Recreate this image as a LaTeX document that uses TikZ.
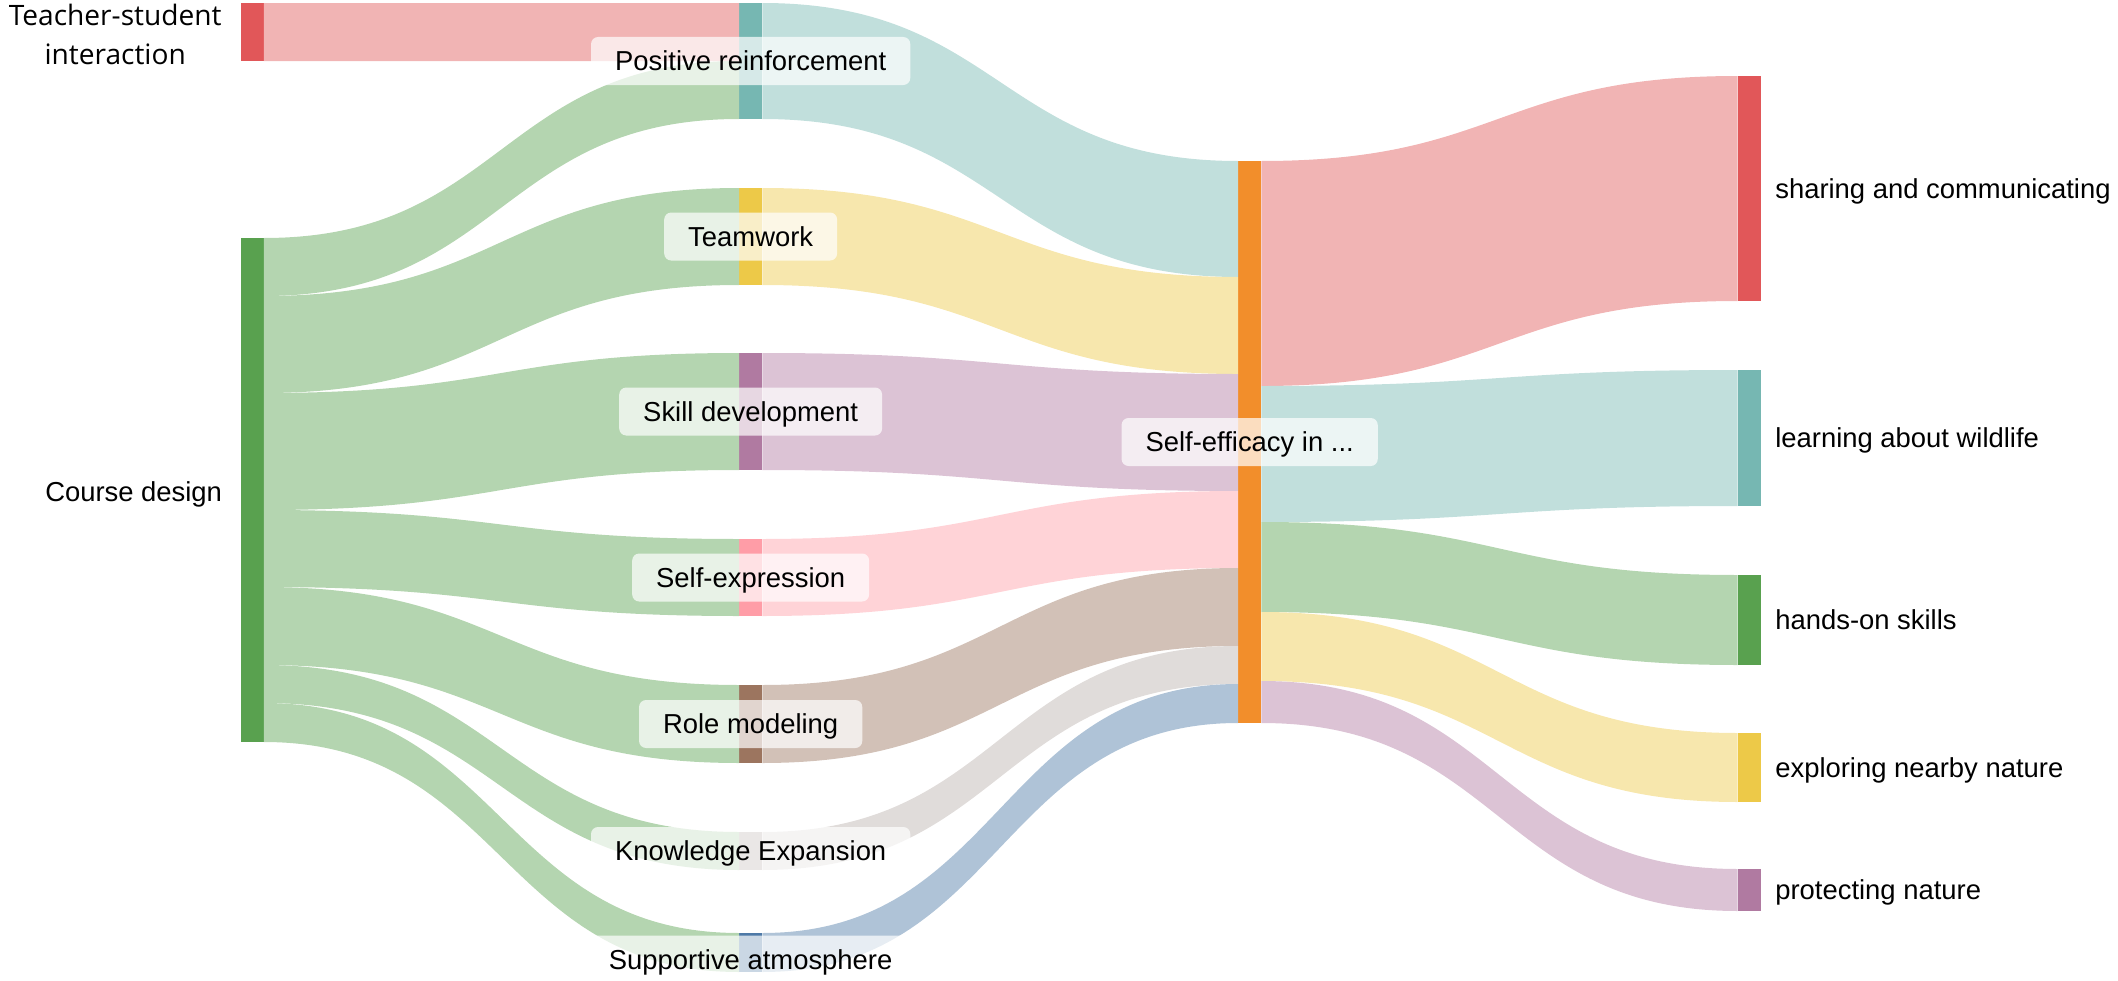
\documentclass[tikz,border=0pt]{standalone}
\usepackage{fontspec}
\setmainfont{Liberation Sans}
\newfontfamily\opensans{Open Sans}
\usepackage{xcolor}
\usepackage{tikz}
\usetikzlibrary{calc}

\definecolor{tRed}{HTML}{E15759}
\definecolor{tTeal}{HTML}{76B7B2}
\definecolor{tGreen}{HTML}{59A14F}
\definecolor{tYellow}{HTML}{EDC948}
\definecolor{tPurple}{HTML}{B07AA1}
\definecolor{tPink}{HTML}{FF9DA7}
\definecolor{tBrown}{HTML}{9C755F}
\definecolor{tGrey}{HTML}{BAB0AC}
\definecolor{tBlue}{HTML}{4E79A7}
\definecolor{tOrange}{HTML}{F28E2B}

% band from node #1 (offset #2 below its top) to node #3 (offset #4), width #5
\newcommand\flowband[6]{%
  \fill[#6] let \p1=($(#1.north east)+(0,#2)$), \p2=($(#3.north west)+(0,#4)$),
    \p3=($(#3.north west)+(0,#4+#5)$), \p4=($(#1.north east)+(0,#2+#5)$) in
    (\p1) .. controls ({(\x1+\x2)/2},\y1) and ({(\x1+\x2)/2},\y2) .. (\p2)
    -- (\p3) .. controls ({(\x1+\x2)/2},\y3) and ({(\x1+\x2)/2},\y4) .. (\p4) -- cycle;}

\begin{document}
\begin{tikzpicture}[x=0.015cm, y=-0.015cm,
    every node/.style={font=\fontsize{11.7}{14}\selectfont},
    bar/.style={rectangle, inner sep=0pt, outer sep=0pt, minimum width=0.35cm, minimum height={#1*0.015cm}, anchor=north west},
    side/.style={inner sep=0pt, text height=8.4pt, text depth=0pt},
    tag/.style={fill=white, fill opacity=0.7, text opacity=1, rounded corners=3pt, inner xsep=0.36cm, inner ysep=0pt, text height=8.4pt, text depth=0pt, minimum height=0.72cm}
]
\useasboundingbox (0,0) rectangle (2118,981);

% sources
\node[bar=58, fill=tRed] (ts) at (240.5,3) {};
\node[bar=504, fill=tGreen] (cd) at (240.5,238) {};

% themes
\node[bar=116, fill=tTeal] (pr) at (739,3) {};
\node[bar=97, fill=tYellow] (tw) at (739,188) {};
\node[bar=117, fill=tPurple] (sd) at (739,353) {};
\node[bar=77, fill=tPink] (sx) at (739,539) {};
\node[bar=78, fill=tBrown] (rm) at (739,685) {};
\node[bar=38, fill=tGrey] (ke) at (739,832) {};
\node[bar=39, fill=tBlue] (sa) at (739,933) {};

\node[bar=562, fill=tOrange] (se) at (1238,161) {};

% outcomes
\node[bar=225, fill=tRed] (share) at (1737.5,76) {};
\node[bar=136, fill=tTeal] (learn) at (1737.5,370) {};
\node[bar=90, fill=tGreen] (hands) at (1737.5,575) {};
\node[bar=69, fill=tYellow] (explore) at (1737.5,733) {};
\node[bar=42, fill=tPurple] (protect) at (1737.5,869) {};

\flowband{ts}{0}{pr}{0}{58}{tRed!45}
\flowband{cd}{0}{pr}{58}{58}{tGreen!45}
\flowband{cd}{58}{tw}{0}{97}{tGreen!45}
\flowband{cd}{155}{sd}{0}{117}{tGreen!45}
\flowband{cd}{272}{sx}{0}{77}{tGreen!45}
\flowband{cd}{349}{rm}{0}{78}{tGreen!45}
\flowband{cd}{427}{ke}{0}{38}{tGreen!45}
\flowband{cd}{465}{sa}{0}{39}{tGreen!45}

\flowband{pr}{0}{se}{0}{116}{tTeal!45}
\flowband{tw}{0}{se}{116}{97}{tYellow!45}
\flowband{sd}{0}{se}{213}{117}{tPurple!45}
\flowband{sx}{0}{se}{330}{77}{tPink!45}
\flowband{rm}{0}{se}{407}{78}{tBrown!45}
\flowband{ke}{0}{se}{485}{38}{tGrey!45}
\flowband{sa}{0}{se}{523}{39}{tBlue!45}

\flowband{se}{0}{share}{0}{225}{tRed!45}
\flowband{se}{225}{learn}{0}{136}{tTeal!45}
\flowband{se}{361}{hands}{0}{90}{tGreen!45}
\flowband{se}{451}{explore}{0}{69}{tYellow!45}
\flowband{se}{520}{protect}{0}{42}{tPurple!45}

% labels
\node[font=\opensans\fontsize{12}{17}\selectfont, align=center, anchor=east, inner sep=0pt] (tslab) at (222,34.5) {Teacher-student\\interaction};
\node[side, anchor=east] (cdlab) at ($(cd.west)+(-18,2)$) {Course design};

\node[tag] (prlab) at (pr) {Positive reinforcement};
\node[tag] (twlab) at (tw) {Teamwork};
\node[tag] (sdlab) at (sd) {Skill development};
\node[tag] (sxlab) at (sx) {Self-expression};
\node[tag] (rmlab) at (rm) {Role modeling};
\node[tag] (kelab) at (ke) {Knowledge Expansion};
\node[tag] (salab) at ($(sa)+(0,7)$) {Supportive atmosphere};
\node[tag] (selab) at (se) {Self-efficacy in ...};

\node[side, anchor=west] (sharelab) at ($(share.east)+(14,0)$) {sharing and communicating};
\node[side, anchor=west] (learnlab) at ($(learn.east)+(14,0)$) {learning about wildlife};
\node[side, anchor=west] (handslab) at ($(hands.east)+(14,0)$) {hands-on skills};
\node[side, anchor=west] (explorelab) at ($(explore.east)+(14,0)$) {exploring nearby nature};
\node[side, anchor=west] (protectlab) at ($(protect.east)+(14,0)$) {protecting nature};

\end{tikzpicture}
\end{document}
